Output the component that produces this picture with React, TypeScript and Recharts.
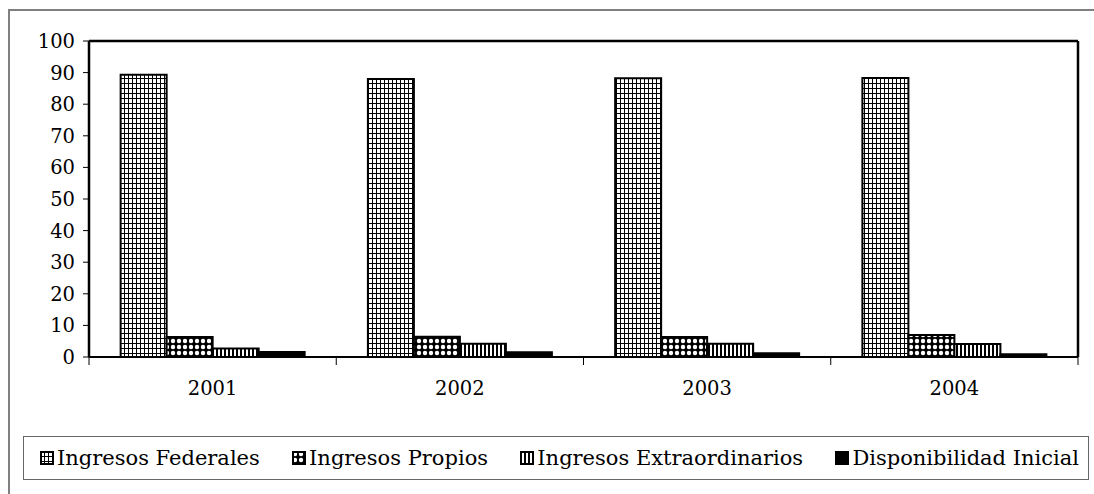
import React from "react";
import { BarChart, Bar, XAxis, YAxis, CartesianGrid, ReferenceLine } from "recharts";

const years = ["2001", "2002", "2003", "2004"];
const federales = [89.3, 88.0, 88.2, 88.3];
const propios = [6.3, 6.4, 6.3, 7.0];
const extraordinarios = [2.7, 4.2, 4.2, 4.1];
const disponibilidad = [1.6, 1.5, 1.2, 0.9];
const yTicks = [0, 10, 20, 30, 40, 50, 60, 70, 80, 90, 100];

const seriesNames = ["Ingresos Federales", "Ingresos Propios", "Ingresos Extraordinarios", "Disponibilidad Inicial"];
const seriesKeys = ["fed", "prop", "ext", "disp"];
const seriesFills = ["url(#pFed)", "url(#pProp)", "url(#pExt)", "#000"];

const data = years.map((y, i) => ({
  year: y,
  fed: federales[i],
  prop: propios[i],
  ext: extraordinarios[i],
  disp: disponibilidad[i],
}));

const FONT = "'DejaVu Serif', serif";

const Patterns = () => (
  <svg width={0} height={0} style={{ position: "absolute" }}>
    <defs>
      <pattern id="pFed" patternUnits="userSpaceOnUse" width={4} height={5}>
        <rect width={4} height={5} fill="#fff" />
        <rect x={0} y={0} width={1} height={5} fill="#000" />
        <rect x={0} y={0} width={4} height={1} fill="#000" />
      </pattern>
      <pattern id="pProp" patternUnits="userSpaceOnUse" width={6} height={6}>
        <rect width={6} height={6} fill="#000" />
        <circle cx={3} cy={3} r={2.2} fill="#fff" />
      </pattern>
      <pattern id="pExt" patternUnits="userSpaceOnUse" width={4} height={4}>
        <rect width={4} height={4} fill="#fff" />
        <rect x={0} y={0} width={2} height={4} fill="#000" />
      </pattern>
    </defs>
  </svg>
);

const XTick = (props: any) => {
  const { x, y, payload, index } = props;
  const half = payload && payload.offset ? payload.offset : 123.6;
  return (
    <g>
      <line x1={x - half} x2={x - half} y1={y} y2={y + 8} stroke="#000" strokeWidth={1} />
      {index === years.length - 1 && (
        <line x1={x + half} x2={x + half} y1={y} y2={y + 8} stroke="#000" strokeWidth={1} />
      )}
      <text x={x} y={y + 32} textAnchor="middle" dominantBaseline="middle" fontFamily={FONT} fontSize={19.5} fill="#000">
        {payload.value}
      </text>
    </g>
  );
};

export default function App() {
  return (
    <div style={{ position: "fixed", left: 8, top: 8, width: 1086, height: 486, overflow: "hidden", background: "#fff" }}>
      <Patterns />
      <div
        style={{
          position: "absolute",
          left: 0,
          top: 1,
          width: 1086,
          height: 485,
          boxSizing: "border-box",
          borderTop: "2px solid #808080",
          borderLeft: "2px solid #808080",
          pointerEvents: "none",
        }}
      />
      <BarChart
        width={1086}
        height={486}
        data={data}
        margin={{ top: 33, right: 14, left: 21, bottom: 97 }}
        barCategoryGap="12.8%"
        barGap={0}
      >
        <CartesianGrid vertical={false} stroke="#444" strokeWidth={1} />
        <XAxis
          dataKey="year"
          height={40}
          tickLine={false}
          tickSize={0}
          tickMargin={0}
          axisLine={{ stroke: "#000", strokeWidth: 2 }}
          tick={<XTick />}
          interval={0}
        />
        <YAxis
          yAxisId="left"
          width={60}
          domain={[0, 100]}
          ticks={yTicks}
          interval={0}
          tickSize={6}
          tickMargin={8}
          tickLine={{ stroke: "#000" }}
          axisLine={{ stroke: "#000", strokeWidth: 2.5 }}
          tick={{ fontFamily: FONT, fontSize: 19.5, fill: "#000" }}
        />
        <YAxis
          yAxisId="right"
          orientation="right"
          width={2}
          domain={[0, 100]}
          tick={false}
          tickLine={false}
          axisLine={{ stroke: "#000", strokeWidth: 2.5 }}
        />
        <ReferenceLine yAxisId="left" y={100} stroke="#000" strokeWidth={2.5} />
        {seriesKeys.map((k, i) => (
          <Bar
            key={k}
            yAxisId="left"
            dataKey={k}
            name={seriesNames[i]}
            fill={seriesFills[i]}
            stroke="#000"
            strokeWidth={2}
            isAnimationActive={false}
          />
        ))}
      </BarChart>
      <div
        style={{
          position: "absolute",
          left: 15,
          top: 428,
          width: 1066,
          height: 44,
          boxSizing: "border-box",
          border: "1px solid #666",
          display: "flex",
          alignItems: "center",
          justifyContent: "space-between",
          paddingLeft: 16,
          paddingRight: 9,
          fontFamily: FONT,
          fontSize: 21,
          color: "#000",
          background: "#fff",
        }}
      >
        {seriesNames.map((n, i) => (
          <div key={n} style={{ display: "flex", alignItems: "center", gap: 3 }}>
            <svg width={14} height={14}>
              <rect x={1} y={1} width={12} height={12} fill={seriesFills[i]} stroke="#000" strokeWidth={2} />
            </svg>
            <span>{n}</span>
          </div>
        ))}
      </div>
    </div>
  );
}
